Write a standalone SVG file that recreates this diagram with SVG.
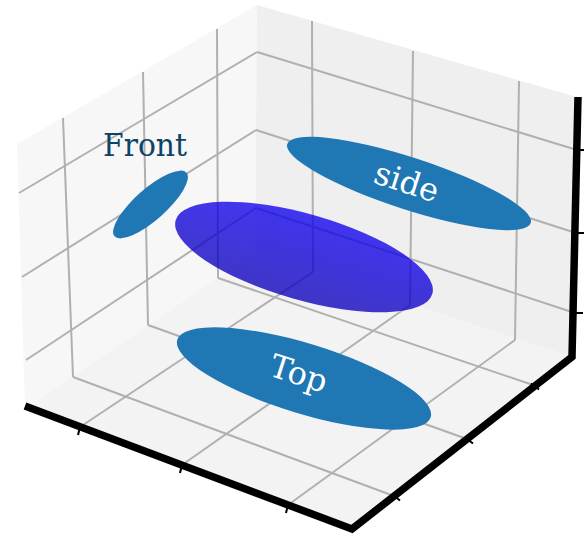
<svg xmlns="http://www.w3.org/2000/svg" width="584" height="539" viewBox="0 0 584 539">
  <style>
    .grid { stroke: #b0b0b0; stroke-width: 2; fill: none; }
    .axis { stroke: #000; stroke-width: 7.5; fill: none; stroke-linejoin: miter; }
    .tick { stroke: #000; stroke-width: 2; }
    .patch { fill: #1f77b4; }
    .lbl { font-family: "DejaVu Serif", "Liberation Serif", serif; font-size: 32px; }
  </style>
  <defs>
    <linearGradient id="surf" x1="0" y1="0" x2="0" y2="1">
      <stop offset="0" stop-color="rgb(16,0,240)"/>
      <stop offset="1" stop-color="rgb(12,0,185)"/>
    </linearGradient>
  </defs>
  <rect width="584" height="539" fill="#fff"/>
  <g id="panes">
    <polygon points="17,144 257,5 255,253 25,408" fill="#f7f7f7"/>
    <polygon points="257,5 577,97 572,357 255,253" fill="#efefef"/>
    <polygon points="25,408 255,253 572,357 352,529" fill="#f3f3f3"/>
  </g>
  <g id="grid" class="grid">
    <line x1="63" y1="118" x2="73" y2="377"/>
    <line x1="143" y1="72" x2="148" y2="325"/>
    <line x1="217" y1="29" x2="218" y2="278"/>
    <line x1="19" y1="193" x2="257" y2="52"/>
    <line x1="22" y1="277" x2="256" y2="130"/>
    <line x1="26" y1="360" x2="256" y2="208"/>
    <line x1="257" y1="52" x2="577" y2="150"/>
    <line x1="256" y1="130" x2="576" y2="233"/>
    <line x1="256" y1="208" x2="575" y2="313"/>
    <line x1="312" y1="21" x2="313" y2="272"/>
    <line x1="413" y1="51" x2="410" y2="305"/>
    <line x1="519" y1="81" x2="515" y2="340"/>
    <line x1="73" y1="377" x2="394" y2="496"/>
    <line x1="148" y1="325" x2="467" y2="439"/>
    <line x1="218" y1="278" x2="533" y2="385"/>
    <line x1="80" y1="427" x2="313" y2="272"/>
    <line x1="182" y1="465" x2="410" y2="305"/>
    <line x1="288" y1="505" x2="515" y2="340"/>
  </g>
  <g id="axes">
    <polyline class="axis" points="25,406 352,529 572,357 578,97"/>
    <line class="tick" x1="80.5" y1="425" x2="78" y2="435"/>
    <line class="tick" x1="182.5" y1="463" x2="180" y2="473"/>
    <line class="tick" x1="288.5" y1="503" x2="286" y2="513"/>
    <line class="tick" x1="392" y1="494.5" x2="400" y2="500.5"/>
    <line class="tick" x1="465" y1="437.5" x2="473" y2="443.5"/>
    <line class="tick" x1="531" y1="383.5" x2="539" y2="389.5"/>
    <line class="tick" x1="575" y1="150" x2="584" y2="150"/>
    <line class="tick" x1="574" y1="233" x2="584" y2="233"/>
    <line class="tick" x1="573" y1="313" x2="583" y2="313"/>
  </g>
  <g id="top">
    <ellipse class="patch" cx="0" cy="0" rx="132.5" ry="35" transform="translate(304,378.5) rotate(17)"/>
    <text class="lbl" fill="#fff" text-anchor="middle" x="0" y="8.5" transform="translate(298,376) rotate(18)">Top</text>
  </g>
  <g id="surface">
    <ellipse cx="0" cy="0" rx="133.5" ry="43" fill="url(#surf)" fill-opacity="0.78" transform="translate(304,257) rotate(16)"/>
  </g>
  <g id="side">
    <ellipse class="patch" cx="0" cy="0" rx="128" ry="26" transform="translate(409,183.5) rotate(18)"/>
    <text class="lbl" fill="#fff" text-anchor="middle" x="0" y="12" transform="translate(407,181) rotate(18)">side</text>
  </g>
  <g id="front">
    <ellipse class="patch" cx="0" cy="0" rx="48" ry="15.6" transform="translate(150.5,204.5) rotate(-41.5)"/>
    <text class="lbl" fill="#0c4468" x="103" y="156" textLength="84" lengthAdjust="spacingAndGlyphs">Front</text>
  </g>
</svg>
